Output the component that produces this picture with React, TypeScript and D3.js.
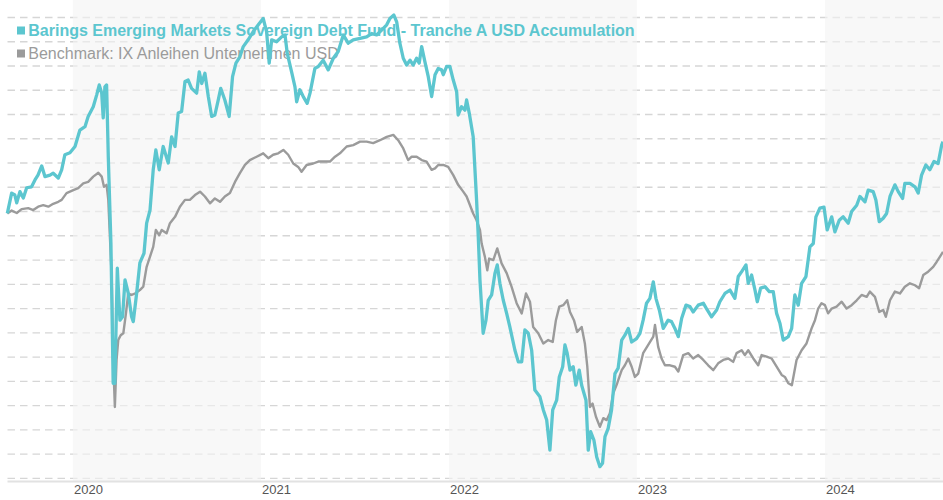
import React from "react";
import * as d3 from "d3";

// decimal year, performance (%) relative to start
const fundSeries: [number, number][] = [
  [2019.651,-0.4],[2019.674,3.8],[2019.691,3.4],[2019.701,1.8],[2019.718,4.1],[2019.736,2.8],[2019.754,4.9],[2019.780,5.1],[2019.798,6.5],[2019.814,7.5],[2019.834,9.4],[2019.851,7.2],[2019.878,7.5],[2019.895,7.9],[2019.922,6.9],[2019.940,8.6],[2019.957,11.7],[2019.984,12.1],
  [2020.011,13.4],[2020.037,16.8],[2020.064,17.5],[2020.081,19.6],[2020.108,21.6],[2020.126,24.0],[2020.140,26.1],[2020.153,24.4],[2020.161,19.3],[2020.170,25.7],[2020.179,26.1],[2020.188,11.3],[2020.202,-6.5],[2020.214,-35.4],[2020.223,-35.4],[2020.236,-11.7],[2020.250,-22.4],[2020.264,-21.7],[2020.277,-14.1],[2020.294,-16.8],[2020.312,-21.7],[2020.321,-22.7],[2020.339,-16.8],[2020.356,-10.6],[2020.378,-8.6],[2020.392,-2.4],[2020.410,0.3],[2020.427,8.6],[2020.441,12.7],[2020.459,8.6],[2020.480,13.4],[2020.507,10.0],[2020.525,15.4],[2020.543,13.4],[2020.560,20.3],[2020.578,20.6],[2020.596,26.8],[2020.613,27.1],[2020.631,25.4],[2020.658,24.4],[2020.672,28.8],[2020.685,26.4],[2020.702,28.5],[2020.720,23.7],[2020.738,19.6],[2020.755,19.9],[2020.773,23.0],[2020.786,25.4],[2020.808,23.0],[2020.831,19.6],[2020.849,27.8],[2020.867,30.6],[2020.888,31.9],[2020.906,34.0],[2020.932,35.4],[2020.959,37.1],[2020.986,38.5],
  [2021.012,39.8],[2021.030,37.1],[2021.044,30.6],[2021.057,35.4],[2021.083,35.0],[2021.110,36.0],[2021.128,36.4],[2021.140,32.6],[2021.163,28.8],[2021.181,25.7],[2021.190,22.6],[2021.207,25.1],[2021.225,23.7],[2021.246,22.3],[2021.261,24.4],[2021.287,29.5],[2021.305,29.9],[2021.331,31.2],[2021.358,29.2],[2021.385,31.6],[2021.411,33.0],[2021.438,36.4],[2021.464,34.7],[2021.491,35.4],[2021.527,35.7],[2021.562,36.0],[2021.589,36.7],[2021.615,36.4],[2021.642,37.4],[2021.669,38.5],[2021.686,39.8],[2021.707,40.5],[2021.722,39.1],[2021.739,34.7],[2021.757,31.6],[2021.775,30.2],[2021.793,31.2],[2021.810,30.2],[2021.828,31.6],[2021.842,30.6],[2021.855,34.0],[2021.872,30.9],[2021.890,27.8],[2021.908,23.7],[2021.926,28.2],[2021.943,29.5],[2021.961,29.2],[2021.970,28.2],[2021.988,29.9],
  [2022.005,29.9],[2022.023,27.1],[2022.041,24.7],[2022.049,19.9],[2022.067,21.6],[2022.085,20.9],[2022.094,23.0],[2022.108,20.3],[2022.129,15.4],[2022.147,2.4],[2022.156,-5.2],[2022.165,-14.1],[2022.182,-25.1],[2022.197,-22.4],[2022.209,-18.3],[2022.227,-17.2],[2022.245,-12.7],[2022.257,-11.0],[2022.271,-14.8],[2022.289,-18.3],[2022.307,-21.0],[2022.324,-23.8],[2022.351,-28.6],[2022.369,-31.0],[2022.387,-31.0],[2022.404,-24.4],[2022.422,-25.1],[2022.440,-28.6],[2022.457,-36.8],[2022.484,-38.2],[2022.502,-40.9],[2022.520,-43.0],[2022.537,-49.2],[2022.552,-40.9],[2022.573,-38.9],[2022.587,-34.1],[2022.605,-32.0],[2022.617,-27.5],[2022.629,-29.2],[2022.644,-32.7],[2022.661,-32.0],[2022.675,-35.8],[2022.693,-32.7],[2022.706,-35.8],[2022.729,-38.9],[2022.741,-49.2],[2022.754,-45.4],[2022.771,-47.1],[2022.786,-50.6],[2022.803,-52.6],[2022.817,-51.9],[2022.830,-46.4],[2022.847,-44.7],[2022.865,-40.9],[2022.883,-33.4],[2022.900,-32.3],[2022.919,-26.5],[2022.936,-25.5],[2022.954,-24.1],[2022.972,-26.9],[2022.998,-26.2],
  [2023.016,-25.1],[2023.033,-22.4],[2023.051,-18.9],[2023.069,-17.9],[2023.087,-14.5],[2023.101,-17.9],[2023.119,-20.3],[2023.140,-24.1],[2023.166,-22.4],[2023.184,-22.7],[2023.202,-24.1],[2023.220,-25.8],[2023.238,-22.0],[2023.261,-19.3],[2023.282,-19.6],[2023.299,-20.7],[2023.326,-19.3],[2023.353,-18.9],[2023.374,-20.3],[2023.397,-21.7],[2023.424,-20.3],[2023.441,-18.6],[2023.468,-16.9],[2023.495,-16.2],[2023.521,-17.9],[2023.539,-13.4],[2023.557,-12.4],[2023.580,-11.0],[2023.592,-14.8],[2023.610,-13.1],[2023.628,-16.2],[2023.640,-18.6],[2023.658,-15.8],[2023.681,-15.5],[2023.704,-16.5],[2023.725,-16.5],[2023.743,-21.0],[2023.761,-23.1],[2023.778,-26.5],[2023.805,-25.8],[2023.823,-24.1],[2023.840,-17.2],[2023.858,-19.3],[2023.876,-14.8],[2023.899,-13.4],[2023.920,-7.3],[2023.938,-6.6],[2023.952,-1.1],[2023.973,0.7],[2023.995,0.9],
  [2024.012,-3.8],[2024.036,-1.1],[2024.053,-4.2],[2024.076,-1.8],[2024.097,-1.1],[2024.124,-2.4],[2024.142,0.0],[2024.169,1.3],[2024.186,3.1],[2024.213,2.0],[2024.230,4.4],[2024.257,4.1],[2024.271,2.4],[2024.289,-2.1],[2024.310,-1.4],[2024.328,-0.4],[2024.346,3.1],[2024.372,5.5],[2024.390,4.1],[2024.413,2.7],[2024.425,5.8],[2024.452,5.8],[2024.479,5.1],[2024.496,3.8],[2024.514,7.5],[2024.537,9.6],[2024.558,8.6],[2024.580,10.3],[2024.602,9.9],[2024.621,13.7],[2024.628,14.4],
];

const benchSeries: [number, number][] = [
  [2019.651,-0.4],[2019.674,0.2],[2019.701,-0.3],[2019.727,0.5],[2019.762,0.7],[2019.789,0.3],[2019.815,1.0],[2019.842,1.3],[2019.869,1.0],[2019.895,1.6],[2019.922,2.0],[2019.940,2.4],[2019.966,3.8],
  [2020.002,4.4],[2020.028,4.8],[2020.055,5.8],[2020.081,6.1],[2020.108,7.2],[2020.135,8.0],[2020.153,7.2],[2020.165,5.1],[2020.179,5.5],[2020.188,2.4],[2020.206,-13.4],[2020.214,-30.6],[2020.223,-40.3],[2020.232,-30.6],[2020.241,-26.5],[2020.254,-25.5],[2020.268,-25.1],[2020.282,-21.0],[2020.294,-16.9],[2020.312,-17.2],[2020.330,-16.9],[2020.356,-16.2],[2020.374,-15.5],[2020.392,-11.4],[2020.410,-9.3],[2020.427,-7.3],[2020.441,-3.8],[2020.459,-4.9],[2020.472,-3.8],[2020.498,-4.5],[2020.516,-2.4],[2020.543,-1.1],[2020.569,1.0],[2020.596,2.4],[2020.622,2.4],[2020.649,3.4],[2020.676,4.1],[2020.702,3.1],[2020.729,1.7],[2020.755,2.7],[2020.782,2.0],[2020.808,3.1],[2020.835,3.8],[2020.862,6.1],[2020.888,7.9],[2020.915,9.6],[2020.941,10.6],[2020.977,11.3],
  [2021.012,12.0],[2021.039,11.0],[2021.065,11.7],[2021.092,12.0],[2021.119,12.7],[2021.145,11.7],[2021.172,9.9],[2021.198,9.2],[2021.216,8.2],[2021.243,9.6],[2021.278,9.9],[2021.305,10.3],[2021.331,10.3],[2021.367,10.3],[2021.394,11.3],[2021.420,12.0],[2021.456,13.4],[2021.491,13.7],[2021.527,14.4],[2021.562,14.4],[2021.597,14.1],[2021.633,14.7],[2021.669,15.4],[2021.704,15.8],[2021.730,14.7],[2021.757,13.0],[2021.783,10.6],[2021.802,11.3],[2021.828,11.3],[2021.855,10.6],[2021.881,10.3],[2021.908,8.6],[2021.926,8.9],[2021.943,9.6],[2021.970,9.6],[2021.996,9.2],
  [2022.023,7.5],[2022.049,5.5],[2022.076,4.1],[2022.094,3.1],[2022.112,1.3],[2022.129,-0.4],[2022.147,-1.8],[2022.165,-3.8],[2022.174,-6.6],[2022.191,-9.3],[2022.204,-12.1],[2022.214,-9.7],[2022.236,-10.0],[2022.257,-7.6],[2022.280,-10.7],[2022.307,-12.7],[2022.333,-15.5],[2022.360,-18.9],[2022.387,-21.0],[2022.410,-16.9],[2022.431,-18.6],[2022.448,-23.8],[2022.475,-25.1],[2022.502,-27.2],[2022.528,-26.5],[2022.552,-26.9],[2022.569,-22.4],[2022.587,-19.6],[2022.608,-19.3],[2022.629,-18.3],[2022.644,-20.7],[2022.665,-22.4],[2022.682,-24.8],[2022.706,-23.8],[2022.723,-27.2],[2022.736,-32.0],[2022.750,-40.3],[2022.764,-39.6],[2022.782,-42.3],[2022.803,-44.4],[2022.821,-42.6],[2022.839,-43.0],[2022.856,-41.6],[2022.874,-37.5],[2022.895,-35.4],[2022.919,-32.7],[2022.936,-31.7],[2022.954,-30.3],[2022.972,-32.0],[2022.989,-34.1],
  [2023.007,-33.4],[2023.033,-29.2],[2023.060,-27.5],[2023.087,-25.8],[2023.096,-23.4],[2023.113,-27.9],[2023.131,-30.3],[2023.149,-31.7],[2023.176,-31.7],[2023.202,-32.0],[2023.220,-33.0],[2023.246,-29.6],[2023.273,-29.2],[2023.299,-30.3],[2023.326,-29.6],[2023.353,-30.6],[2023.379,-31.7],[2023.406,-32.7],[2023.432,-31.3],[2023.459,-30.6],[2023.486,-30.3],[2023.512,-31.0],[2023.530,-29.2],[2023.557,-28.6],[2023.574,-29.6],[2023.592,-28.6],[2023.619,-30.3],[2023.645,-31.7],[2023.663,-29.6],[2023.690,-29.9],[2023.716,-30.3],[2023.743,-32.0],[2023.770,-33.7],[2023.787,-34.1],[2023.805,-35.4],[2023.824,-35.8],[2023.849,-30.6],[2023.876,-28.6],[2023.902,-27.2],[2023.929,-24.1],[2023.947,-22.4],[2023.964,-20.0],[2023.982,-18.9],
  [2024.000,-19.3],[2024.017,-21.0],[2024.036,-20.0],[2024.062,-19.6],[2024.089,-18.6],[2024.115,-20.0],[2024.142,-19.3],[2024.169,-18.3],[2024.195,-17.2],[2024.222,-17.6],[2024.239,-16.5],[2024.266,-17.6],[2024.289,-20.7],[2024.310,-20.3],[2024.324,-21.7],[2024.346,-18.3],[2024.372,-16.5],[2024.399,-16.9],[2024.425,-15.5],[2024.452,-14.8],[2024.479,-15.2],[2024.501,-15.8],[2024.523,-13.1],[2024.549,-12.4],[2024.576,-11.4],[2024.594,-10.4],[2024.612,-9.3],[2024.628,-8.3],
];

const yearTicks = [2020, 2021, 2022, 2023, 2024];
const shadedYears = [2020, 2022, 2024];
const gridValues = d3.range(-55, 41, 5);
const legendLabels = [
  "Barings Emerging Markets Sovereign Debt Fund - Tranche A USD Accumulation",
  "Benchmark: IX Anleihen Unternehmen USD",
];
const xDomain = [2019.612, 2024.628];
const yDomain = [-55, 40];

const W = 943;
const H = 500;
const FUND = "#5cc6cf";
const BENCH = "#9b9b9b";

export default function App() {
  const x = d3.scaleLinear().domain(xDomain).range([0, W]);
  const y = d3.scaleLinear().domain(yDomain).range([478.3, 17.5]);
  const line = d3
    .line<[number, number]>()
    .x((d) => x(d[0]))
    .y((d) => y(d[1]))
    .curve(d3.curveLinear);

  return (
    <div style={{ position: "absolute", left: 0, top: 0, width: W, height: H, background: "#fff" }}>
      <svg width={W} height={H} style={{ display: "block", fontFamily: "Arial, 'Liberation Sans', sans-serif" }}>
        {gridValues.map((v) => (
          <line key={v} x1={7.5} x2={W} y1={y(v)} y2={y(v)} stroke="#d6d6d6" strokeWidth={1.3} strokeDasharray="7.5,5" />
        ))}
        {shadedYears.map((yr) => (
          <rect key={yr} x={x(yr)} y={0} width={Math.min(x(yr + 1), W) - x(yr)} height={481} fill="#f4f4f4" opacity={0.62} />
        ))}
        <line x1={7.5} x2={W} y1={481.5} y2={481.5} stroke="#e2e2e2" strokeWidth={2} />
        {yearTicks.map((yr) => (
          <text key={yr} x={x(yr) + 1} y={494} fontSize={13} fill="#555" textAnchor="start">
            {yr}
          </text>
        ))}
        <rect x={17} y={26.5} width={8} height={8} fill={FUND} />
        <text x={28.3} y={35.5} fontSize={16} fontWeight="bold" fill={FUND}>
          {legendLabels[0]}
        </text>
        <rect x={17} y={49.5} width={8} height={8} fill={BENCH} />
        <text x={28.3} y={58.5} fontSize={16} fill={BENCH}>
          {legendLabels[1]}
        </text>
        <path d={line(benchSeries) || ""} fill="none" stroke={BENCH} strokeWidth={2.4} strokeLinejoin="round" />
        <path d={line(fundSeries) || ""} fill="none" stroke={FUND} strokeWidth={3.3} strokeLinejoin="round" />
      </svg>
    </div>
  );
}
